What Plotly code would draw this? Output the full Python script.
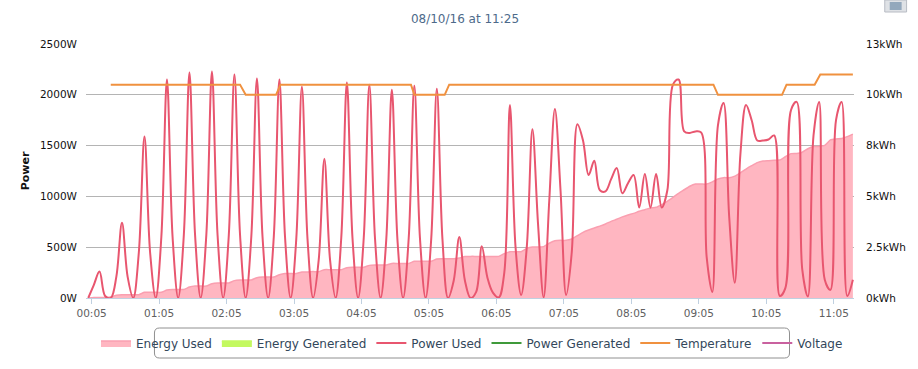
import pandas as pd
import plotly.graph_objects as go

sample_start = "2016-08-10 00:02"
power_used = [
    0, 130, 260, 20, 0, 210, 740, 210, 0, 450, 1590, 450, 0, 600, 2150, 600, 0, 620, 2220, 620,
    0, 620, 2230, 620, 0, 620, 2200, 620, 0, 600, 2160, 600, 0, 600, 2150, 600, 0, 580, 2080, 580,
    0, 380, 1370, 380, 0, 590, 2120, 590, 0, 590, 2100, 590, 0, 570, 2050, 570, 0, 590, 2090, 590,
    0, 580, 2060, 580, 0, 170, 600, 170, 0, 60, 510, 200, 50, 5, 250, 1900, 500, 30, 500, 1660,
    730, 5, 960, 1860, 1060, 30, 450, 1710, 1550, 1210, 1350, 1060, 1050, 1170, 1280, 1030, 1130, 1210, 890, 1220,
    890, 1220, 890, 1060, 2100, 2150, 1640, 1625, 1640, 1630, 400, 60, 1700, 1920, 800, 150, 1420,
    1900, 1750, 1550, 1550, 1560, 1600, 20, 100, 1850, 1930, 280, 15, 1600, 1930, 180, 80, 1750, 1930,
    20, 180, 1800, 1930,
]
energy_used = [
    0, 0.03, 0.03, 0.03, 0.05, 0.14, 0.17, 0.17, 0.17, 0.17, 0.29, 0.29, 0.29, 0.29, 0.41, 0.44, 0.44, 0.44, 0.56, 0.61,
    0.61, 0.61, 0.73, 0.77, 0.77, 0.77, 0.89, 0.92, 0.92, 0.92, 1.04, 1.07, 1.07, 1.07, 1.19, 1.25, 1.25, 1.25, 1.33, 1.33,
    1.35, 1.35, 1.45, 1.45, 1.45, 1.45, 1.55, 1.57, 1.57, 1.57, 1.67, 1.69, 1.69, 1.69, 1.77, 1.77, 1.77, 1.77, 1.88, 1.88,
    1.88, 1.88, 2.00, 2.01, 2.01, 2.01, 2.05, 2.12, 2.13, 2.13, 2.13, 2.13, 2.13, 2.13, 2.27, 2.37, 2.37, 2.37, 2.54, 2.61,
    2.61, 2.63, 2.80, 2.93, 2.95, 2.95, 3.02, 3.19, 3.36, 3.48, 3.58, 3.68, 3.79, 3.92, 4.03, 4.15, 4.25, 4.33, 4.44, 4.52,
    4.61, 4.64, 4.78, 4.95, 5.15, 5.36, 5.54, 5.72, 5.83, 5.83, 5.83, 5.94, 6.09, 6.16, 6.16, 6.24, 6.41, 6.60, 6.77, 6.93,
    7.01, 7.03, 7.05, 7.06, 7.23, 7.39, 7.40, 7.46, 7.64, 7.75, 7.76, 7.81, 8.09, 8.14, 8.16, 8.26, 8.39,
]
temp_times = ["00:22", "02:17", "02:22", "02:49", "02:53", "04:49", "04:52", "05:19", "05:23",
              "09:18", "09:22", "10:19", "10:23", "10:48", "10:53", "11:22"]
temperature = [21, 21, 20, 20, 21, 21, 20, 20, 21, 21, 20, 20, 21, 21, 22, 22]
hour_ticks = ["00:05", "01:05", "02:05", "03:05", "04:05", "05:05", "06:05", "07:05", "08:05", "09:05", "10:05", "11:05"]
power_ticks = [0, 500, 1000, 1500, 2000, 2500]
power_labels = ["0W", "500W", "1000W", "1500W", "2000W", "2500W"]
energy_ticks = [0, 2.6, 5.2, 7.8, 10.4, 13]
energy_labels = ["0kWh", "2.5kWh", "5kWh", "8kWh", "10kWh", "13kWh"]

DAY = "2016-08-10 "
n = min(len(power_used), len(energy_used))
times = pd.date_range(sample_start, periods=n, freq="5min")
empty = [None] * n
FONT = "DejaVu Sans"

fig = go.Figure()
fig.add_trace(go.Scatter(x=times, y=energy_used[:n], name="Energy Used", mode="lines", fill="tozeroy",
                         line=dict(color="#fa9fb0", width=1.5, shape="spline", smoothing=0.5),
                         fillcolor="rgba(255,182,193,1)"))
fig.add_trace(go.Scatter(x=times, y=empty, name="Energy Generated", mode="lines", fill="tozeroy",
                         line=dict(color="#c3f95f", width=1.5), fillcolor="#c3f95f"))
fig.add_trace(go.Scatter(x=times, y=power_used[:n], name="Power Used", yaxis="y2", mode="lines",
                         line=dict(color="#e8566f", width=2, shape="spline", smoothing=1)))
fig.add_trace(go.Scatter(x=times, y=empty, name="Power Generated", yaxis="y2", mode="lines",
                         line=dict(color="#3f9a3a", width=2)))
fig.add_trace(go.Scatter(x=[DAY + t for t in temp_times], y=temperature, name="Temperature", yaxis="y3", mode="lines",
                         line=dict(color="#f0913f", width=2)))
fig.add_trace(go.Scatter(x=times, y=empty, name="Voltage", yaxis="y3", mode="lines",
                         line=dict(color="#c9619f", width=2)))

PL, PW, PB, PH = 86, 774, 298, 254
def px(v):
    return (v - PL) / PW
def py(v):
    return (PB - v) / PH

legend_path = (f"M {px(160)} {py(328)} L {px(790)} {py(328)} Q {px(795)} {py(328)} {px(795)} {py(333)} "
               f"L {px(795)} {py(353)} Q {px(795)} {py(358)} {px(790)} {py(358)} L {px(160)} {py(358)} "
               f"Q {px(155)} {py(358)} {px(155)} {py(353)} L {px(155)} {py(333)} Q {px(155)} {py(328)} {px(160)} {py(328)} Z")

fig.update_layout(
    width=918, height=369, margin=dict(l=86, r=58, t=44, b=71),
    paper_bgcolor="white", plot_bgcolor="white",
    font=dict(family=FONT, size=10.5, color="#111111"),
    showlegend=True,
    title=dict(text="08/10/16 at 11:25", x=465 / 918, xanchor="center", y=1 - 19 / 369, yanchor="middle",
               font=dict(size=12, color="#4d6a8a", family=FONT)),
    xaxis=dict(type="date", range=[DAY + "00:00", DAY + "11:23"], tickvals=[DAY + t for t in hour_ticks],
               ticktext=hour_ticks, ticks="outside", ticklen=5, tickcolor="#c0d0e0", showgrid=False,
               showline=True, linecolor="#c0d0e0", linewidth=1, tickfont=dict(color="#606060", size=10.5), zeroline=False),
    yaxis=dict(range=[0, 13], side="right", tickvals=energy_ticks, ticktext=energy_labels,
               showgrid=True, gridcolor="#b4b4b4", gridwidth=1, zeroline=False, ticks="", ticklabelstandoff=11,
               tickfont=dict(color="#111111", size=10.5)),
    yaxis2=dict(range=[0, 2500], overlaying="y", side="left", tickvals=power_ticks, ticktext=power_labels,
                showgrid=False, zeroline=False, ticks="", ticklabelstandoff=8, tickfont=dict(color="#111111", size=10.5),
                title=dict(text="<b>Power</b>", font=dict(size=11, color="#111111"), standoff=8)),
    yaxis3=dict(range=[0, 25], overlaying="y", side="right", visible=False),
    legend=dict(orientation="h", x=px(475), xanchor="center", y=py(343), yanchor="middle",
                font=dict(size=12, color="#33475b", family=FONT), bgcolor="rgba(0,0,0,0)", itemwidth=30),
    shapes=[
        dict(type="path", xref="paper", yref="paper", layer="below", path=legend_path,
             line=dict(color="#909090", width=1), fillcolor="white"),
        dict(type="rect", xref="paper", yref="paper", x0=px(891), x1=px(913), y0=py(12), y1=py(0),
             line=dict(color="#b8bcc4", width=1), fillcolor="#dfe2e6"),
        dict(type="rect", xref="paper", yref="paper", x0=px(896), x1=px(908), y0=py(10), y1=py(2),
             line=dict(width=0), fillcolor="#93a8bc"),
    ],
)
fig.write_html("out.html", config=dict(displayModeBar=False),
               post_script="document.body.style.margin='0';document.body.style.overflow='hidden';")
